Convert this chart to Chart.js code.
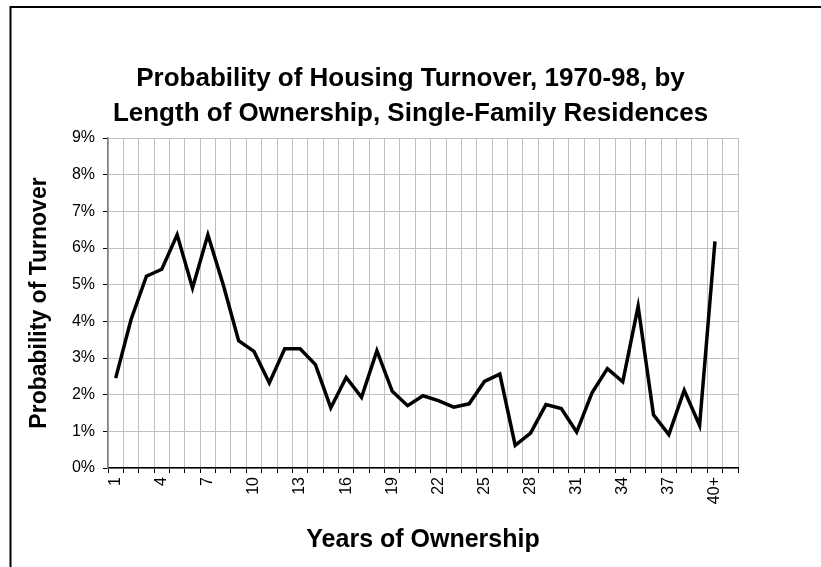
<!DOCTYPE html>
<html>
<head>
<meta charset="utf-8">
<script src="https://cdn.jsdelivr.net/npm/chart.js@4.4.0/dist/chart.umd.min.js"></script>
<style>
  html, body { margin: 0; padding: 0; background: #fff; }
  canvas { display: block; }
</style>
</head>
<body>
<canvas id="turnoverChart" width="821" height="567"></canvas>
<script>
// years of ownership (last slot is an empty category, as in the original sheet)
const years = [
  "1", "2", "3", "4", "5", "6", "7", "8", "9", "10",
  "11", "12", "13", "14", "15", "16", "17", "18", "19", "20",
  "21", "22", "23", "24", "25", "26", "27", "28", "29", "30",
  "31", "32", "33", "34", "35", "36", "37", "38", "39", "40+", ""
];

// probability of turnover, in percent
const turnover = [
  2.45, 4.05, 5.23, 5.42, 6.36, 4.91, 6.36, 5.0, 3.47, 3.18,
  2.32, 3.25, 3.25, 2.82, 1.64, 2.47, 1.93, 3.2, 2.09, 1.7,
  1.97, 1.84, 1.66, 1.75, 2.36, 2.56, 0.62, 0.95, 1.73, 1.62,
  0.98, 2.05, 2.71, 2.35, 4.41, 1.45, 0.91, 2.12, 1.16, 6.18
];

const yTicks = [0, 1, 2, 3, 4, 5, 6, 7, 8, 9];

const fontFamily = "'Liberation Sans', Arial, sans-serif";

const frame = {
  id: "frame",
  beforeDraw(chart) {
    const ctx = chart.ctx;
    ctx.save();
    ctx.fillStyle = "#fff";
    ctx.fillRect(0, 0, chart.width, chart.height);
    ctx.strokeStyle = "#000";
    ctx.lineWidth = 2;
    ctx.strokeRect(10.5, 7, 1000, 1000);
    ctx.restore();
  },
};

const ctx = document.getElementById("turnoverChart").getContext("2d");

const chart = new Chart(ctx, {
  type: "line",
  data: {
    labels: years,
    datasets: [
      {
        label: "Probability of Turnover",
        data: turnover,
        borderColor: "#000",
        borderWidth: 3.5,
        pointRadius: 0,
        tension: 0,
        fill: false,
      },
    ],
  },
  options: {
    responsive: false,
    animation: false,
    layout: {
      padding: 0,
    },
    plugins: {
      legend: { display: false },
      tooltip: { enabled: false },
      title: {
        display: true,
        text: [
          "Probability of Housing Turnover, 1970-98, by",
          "Length of Ownership, Single-Family Residences",
        ],
        color: "#000",
        font: { family: fontFamily, size: 26, weight: "bold", lineHeight: 35 / 26 },
        padding: { top: 61.5, bottom: 6.5 },
      },
    },
    scales: {
      x: {
        offset: true,
        grid: {
          offset: true,
          color: "#c0c0c0",
          tickColor: "#000",
          tickLength: 5,
        },
        border: { color: "#000", width: 1.5 },
        ticks: {
          autoSkip: false,
          minRotation: 90,
          maxRotation: 90,
          padding: 4,
          color: "#000",
          font: { family: fontFamily, size: 16 },
          callback: function (value, index) {
            return index % 3 === 0 ? years[index] : "";
          },
        },
        title: {
          display: true,
          text: "Years of Ownership",
          color: "#000",
          font: { family: fontFamily, size: 25, weight: "bold" },
          padding: { top: 0, bottom: 12 },
        },
        afterFit(scale) {
          scale.height = 99;
        },
      },
      y: {
        min: yTicks[0],
        max: yTicks[yTicks.length - 1],
        grid: {
          color: "#c0c0c0",
          tickColor: "#000",
          tickLength: 5,
        },
        border: { color: "#808080", width: 1.5 },
        afterBuildTicks(scale) {
          scale.ticks = yTicks.map((v) => ({ value: v }));
        },
        ticks: {
          padding: 8,
          color: "#000",
          font: { family: fontFamily, size: 16 },
          callback: (value) => value + "%",
        },
        title: {
          display: true,
          text: "Probability of Turnover",
          color: "#000",
          font: { family: fontFamily, size: 23, weight: "bold" },
          padding: { top: 26.2, bottom: 0 },
        },
        afterFit(scale) {
          scale.width = 108;
        },
      },
      // empty spacer on the right so the plot ends where the original does
      spacer: {
        position: "right",
        display: true,
        grid: { display: false, drawTicks: false },
        border: { display: false },
        ticks: { display: false },
        afterFit(scale) {
          scale.width = 83;
        },
      },
    },
  },
  plugins: [frame],
});
</script>
</body>
</html>
